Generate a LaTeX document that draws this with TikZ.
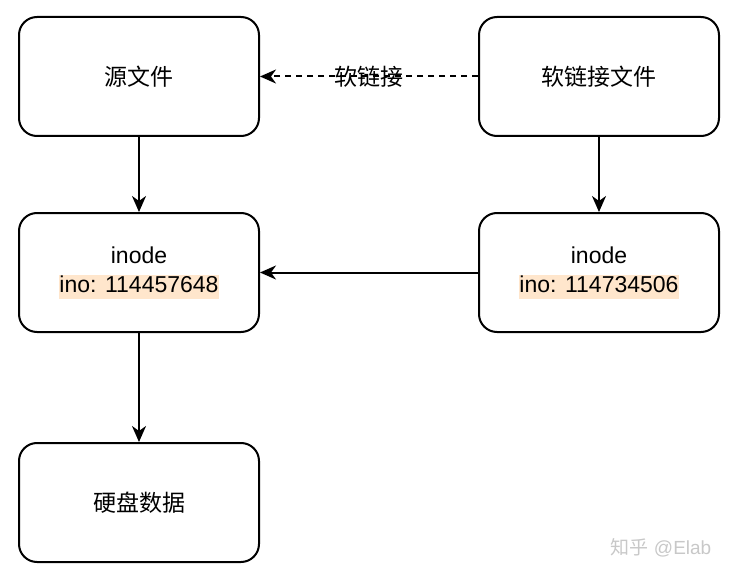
\documentclass[tikz,border=0pt]{standalone}
\usepackage{fontspec}
\setmainfont{Liberation Sans}
\newfontfamily\cjk{Noto Sans CJK SC}
\usetikzlibrary{arrows.meta}
\definecolor{hl}{HTML}{FFE6CC}
\definecolor{wm}{HTML}{C8C8C8}
\newcommand{\hlbox}[1]{{\setlength{\fboxsep}{0.5pt}\colorbox{hl}{\rule[-6pt]{0pt}{23pt}#1}}}
\begin{document}
\begin{tikzpicture}[x=1pt,y=-1pt,
  box/.style={draw=black,line width=2pt,rounded corners=18pt,minimum width=240pt,minimum height=119pt,inner sep=0pt,align=center,font=\fontsize{23}{30}\selectfont},
  conn/.style={line width=2pt,-{Stealth[length=16pt,width=14pt,inset=5pt]}}]
\useasboundingbox (0,0) rectangle (740,578);
\node[box] (src) at (139,76.5) {\cjk 源文件};
\node[box] (lnk) at (599,76.5) {\cjk 软链接文件};
\node[box] (in1) at (139,272.5) {inode\\[-1pt]\hlbox{ino: 114457648}};
\node[box] (in2) at (599,272.5) {inode\\[-1pt]\hlbox{ino: 114734506}};
\node[box] (disk) at (139,502.5) {\cjk 硬盘数据};
\draw[conn,dash pattern=on 6pt off 5pt] (lnk) -- node[inner sep=0.5pt,font=\fontsize{23}{26}\selectfont\cjk] (lab) {软链接} (src);
\draw[conn] (src) -- (in1);
\draw[conn] (lnk) -- (in2);
\draw[conn] (in2) -- (in1);
\draw[conn] (in1) -- (disk);
\node[text=wm,font=\fontsize{19}{22}\selectfont] (wmk) at (661,548) {{\cjk 知乎} @Elab};
\end{tikzpicture}
\end{document}
